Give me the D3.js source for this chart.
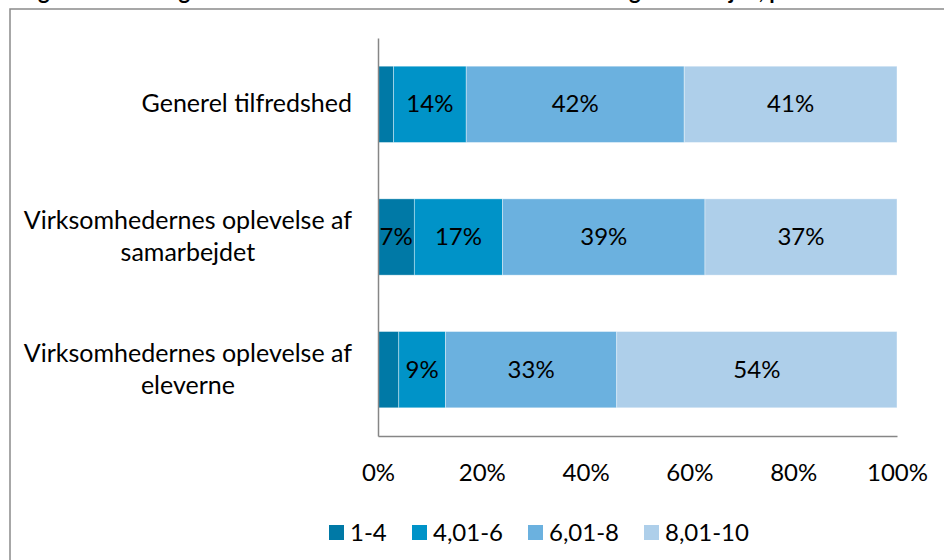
<!DOCTYPE html>
<html>
<head>
<meta charset="utf-8">
<script src="https://cdn.jsdelivr.net/npm/d3@7"></script>
<style>
  html, body { margin: 0; padding: 0; background: #fff; overflow: hidden; }
  svg { display: block; font-family: Lato, "Noto Sans", sans-serif; }
</style>
</head>
<body>
<div id="chart"></div>
<script>
// categories, top to bottom (each entry is a list of wrapped lines)
const categories = [
  ['Generel tilfredshed'],
  ['Virksomhedernes oplevelse af', 'samarbejdet'],
  ['Virksomhedernes oplevelse af', 'eleverne']
];
const seriesNames = ['1-4', '4,01-6', '6,01-8', '8,01-10'];
// percent per series, in category order
const s1to4 = [3, 7, 4];
const s4to6 = [14, 17, 9];
const s6to8 = [42, 39, 33];
const s8to10 = [41, 37, 54];
const xTicks = [0, 20, 40, 60, 80, 100];
const colors = ['#0079a6', '#0093c8', '#6bb1df', '#aecfea'];
const title = 'Figur 4: Fordeling af virksomhedernes tilfredshed med elever og samarbejde, procent';

const W = 944;
const H = 560;
const fontSize = 24;
const catFontSize = 25;

const svg = d3.select('#chart').append('svg')
  .attr('width', W)
  .attr('height', H);

// title, mostly above the top of the picture (only its descenders show)
svg.append('text')
  .attr('x', 20)
  .attr('y', -1)
  .attr('font-size', 22)
  .attr('font-weight', 'bold')
  .attr('fill', '#000')
  .text(title);

// chart frame (runs off the page to the right and bottom)
svg.append('rect')
  .attr('x', 10)
  .attr('y', 9)
  .attr('width', 1000)
  .attr('height', 700)
  .attr('fill', 'none')
  .attr('stroke', '#8a8a8a')
  .attr('stroke-width', 1.5);

const x = d3.scaleLinear()
  .domain([0, 100])
  .range([378, 897]);

const y = d3.scaleBand()
  .domain(d3.range(categories.length))
  .range([38, 436])
  .paddingInner(0.425)
  .paddingOuter(0.2125);

// stack the rows
const rows = categories.map((c, i) => ({
  i,
  values: [s1to4[i], s4to6[i], s6to8[i], s8to10[i]]
}));
const stack = d3.stack()
  .keys(d3.range(seriesNames.length))
  .value((d, k) => d.values[k]);
const stacked = stack(rows);

const layers = svg.append('g').attr('class', 'bars')
  .selectAll('g')
  .data(stacked)
  .join('g')
  .attr('fill', (d, k) => colors[k]);

layers.selectAll('rect')
  .data(d => d)
  .join('rect')
  .attr('x', d => x(d[0]))
  .attr('y', d => y(d.data.i))
  .attr('width', d => x(d[1]) - x(d[0]))
  .attr('height', y.bandwidth())
  .attr('stroke', '#fff')
  .attr('stroke-opacity', 0.5)
  .attr('stroke-width', 0.75);

// data labels (small segments unlabelled, as in the original)
layers.selectAll('text')
  .data(d => d.filter(s => s[1] - s[0] >= 5))
  .join('text')
  .attr('x', d => (x(d[0]) + x(d[1])) / 2)
  .attr('y', d => y(d.data.i) + y.bandwidth() / 2 + 8)
  .attr('text-anchor', 'middle')
  .attr('font-size', fontSize)
  .attr('fill', '#000')
  .text(d => Math.round(d[1] - d[0]) + '%');

// axes
const xAxis = d3.axisBottom(x)
  .tickValues(xTicks)
  .tickFormat(d => d + '%')
  .tickSize(0)
  .tickSizeOuter(0)
  .tickPadding(28);

const gx = svg.append('g')
  .attr('class', 'axis axis--x')
  .attr('transform', `translate(0, ${y.range()[1]})`)
  .call(xAxis);
gx.select('.domain').attr('stroke', '#868686').attr('stroke-width', 1.5);
gx.selectAll('text')
  .attr('font-size', fontSize)
  .attr('font-family', 'Lato, "Noto Sans", sans-serif')
  .attr('fill', '#000');

const gy = svg.append('g')
  .attr('class', 'axis axis--y')
  .attr('transform', `translate(${x(0)}, 0)`)
  .call(d3.axisLeft(y).tickSize(0).tickSizeOuter(0).tickFormat(''));
gy.select('.domain').attr('stroke', '#868686').attr('stroke-width', 1.5);

// category labels: block right-aligned, lines centred within the block
const labelRight = x(0) - 26;
const lineH = 32;
const catG = svg.append('g').attr('class', 'cats');
categories.forEach((lines, i) => {
  const g = catG.append('g');
  const texts = lines.map((ln, j) => g.append('text')
    .attr('font-size', catFontSize)
    .attr('fill', '#000')
    .attr('text-anchor', 'middle')
    .attr('y', y(i) + y.bandwidth() / 2 + 8 + (j - (lines.length - 1) / 2) * lineH)
    .text(ln));
  const blockW = d3.max(texts, t => t.node().getComputedTextLength());
  texts.forEach(t => t.attr('x', labelRight - blockW / 2));
});

// legend
const legendX = [329, 412, 528, 644];
const legend = svg.append('g').attr('class', 'legend')
  .selectAll('g')
  .data(seriesNames)
  .join('g')
  .attr('transform', (d, k) => `translate(${legendX[k]}, 525)`);
legend.append('rect')
  .attr('width', 15)
  .attr('height', 15)
  .attr('fill', (d, k) => colors[k]);
legend.append('text')
  .attr('x', 21)
  .attr('y', 16)
  .attr('font-size', fontSize)
  .attr('fill', '#000')
  .text(d => d);
</script>
</body>
</html>
